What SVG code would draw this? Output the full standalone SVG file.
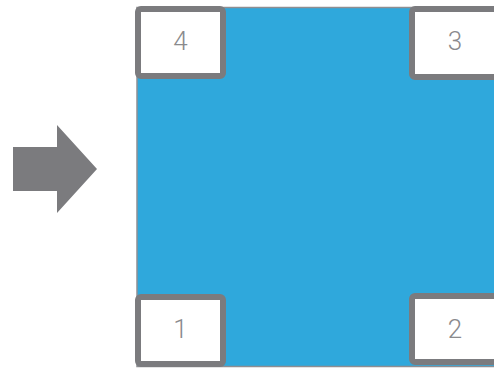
<svg xmlns="http://www.w3.org/2000/svg" width="494" height="370" viewBox="0 0 494 370">
  <style>
    .box { fill: #ffffff; stroke: #7b7b7e; stroke-width: 6; }
    .lbl { font-family: Roboto, Lato, "Liberation Sans", sans-serif; font-weight: 300; font-size: 26px; fill: #8a8a8d; text-anchor: middle; }
  </style>
  <rect width="494" height="370" fill="#ffffff"/>
  <g id="arrow">
    <polygon points="13,147 57,147 57,125 97,169 57,213 57,191 13,191" fill="#7b7b7e"/>
  </g>
  <g id="square">
    <rect x="137" y="7.5" width="370" height="359" fill="#2fa8dc" stroke="#8e8e92" stroke-width="1.5"/>
  </g>
  <g id="corner4">
    <rect class="box" x="138" y="9" width="85" height="67" rx="3"/>
    <text class="lbl" x="180.5" y="50">4</text>
  </g>
  <g id="corner3">
    <rect class="box" x="412" y="9" width="85" height="68" rx="3"/>
    <text class="lbl" x="455" y="50">3</text>
  </g>
  <g id="corner1">
    <rect class="box" x="138" y="297" width="85" height="67" rx="3"/>
    <text class="lbl" x="180.5" y="338">1</text>
  </g>
  <g id="corner2">
    <rect class="box" x="412" y="296" width="85" height="66" rx="3"/>
    <text class="lbl" x="455" y="338">2</text>
  </g>
</svg>
